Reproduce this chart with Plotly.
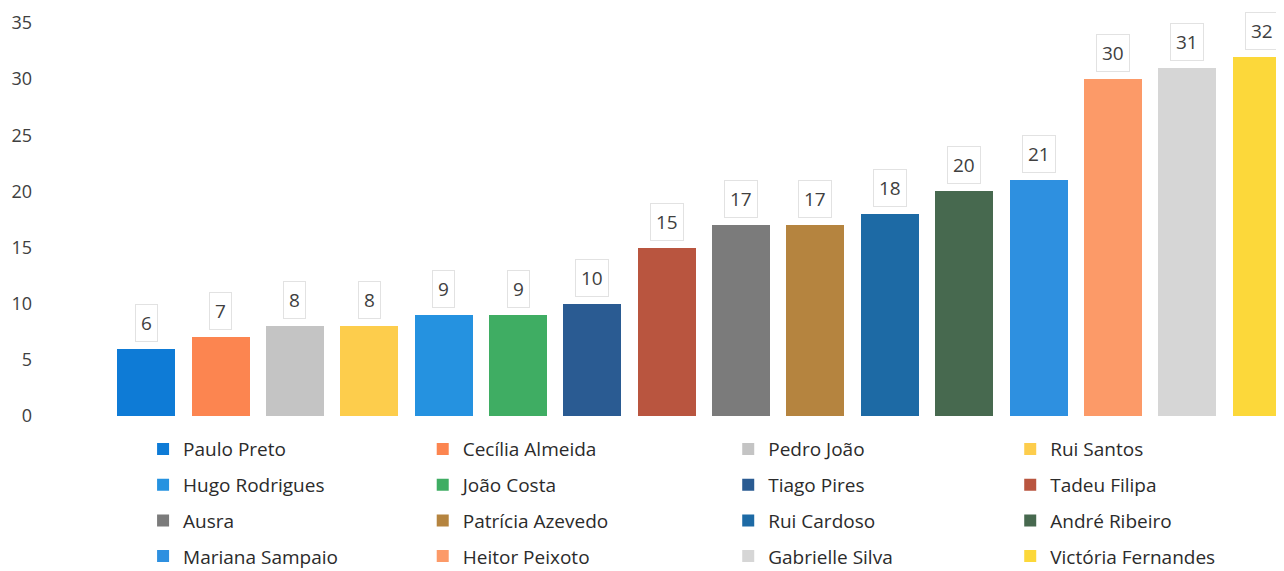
import plotly.graph_objects as go

names = ["Paulo Preto", "Cecília Almeida", "Pedro João", "Rui Santos",
         "Hugo Rodrigues", "João Costa", "Tiago Pires", "Tadeu Filipa",
         "Ausra", "Patrícia Azevedo", "Rui Cardoso", "André Ribeiro",
         "Mariana Sampaio", "Heitor Peixoto", "Gabrielle Silva", "Victória Fernandes"]
values = [6, 7, 8, 8, 9, 9, 10, 15, 17, 17, 18, 20, 21, 30, 31, 32]
colors = ["#0e7bd6", "#fc8550", "#c4c4c4", "#fdcd4c",
          "#2592e0", "#3fad63", "#2a5b92", "#b9553f",
          "#7b7b7b", "#b5843f", "#1d6aa5", "#47694f",
          "#2e90e0", "#fc9a68", "#d6d6d6", "#fcd83a"]
y_ticks = [0, 5, 10, 15, 20, 25, 30, 35]

FONT = "'Open Sans', Lato, sans-serif"
legend_ids = ["legend", "legend2", "legend3", "legend4"]

fig = go.Figure()
for i, (n, v, c) in enumerate(zip(names, values, colors)):
    fig.add_trace(go.Bar(x=[n], y=[v], name=n, legendgroup=n,
                         legend=legend_ids[i % 4],
                         marker=dict(color=c, line=dict(width=0))))

for n, v in zip(names, values):
    fig.add_annotation(x=n, y=v, text=str(v), showarrow=False, yanchor="bottom",
                       yshift=7, font=dict(family=FONT, size=19, color="#404040"),
                       bordercolor="#e2e2e2", borderwidth=1, borderpad=5, bgcolor="white")

leg_common = dict(orientation="v", yanchor="top", xanchor="left", y=-0.036,
                  itemwidth=30, tracegroupgap=8, bgcolor="rgba(0,0,0,0)",
                  maxheight=400, borderwidth=0,
                  font=dict(family=FONT, size=19, color="#2b2b2b"))
leg_x = [0.029, 0.267, 0.527, 0.767]

fig.update_layout(
    width=1276, height=563,
    barmode="stack", bargap=0.22,
    plot_bgcolor="white", paper_bgcolor="white",
    margin=dict(l=101, r=0, t=15, b=155, autoexpand=False),
    font=dict(family=FONT, color="#404040"),
    showlegend=True,
    legend=dict(x=leg_x[0], **leg_common),
    legend2=dict(x=leg_x[1], **leg_common),
    legend3=dict(x=leg_x[2], **leg_common),
    legend4=dict(x=leg_x[3], **leg_common),
    xaxis=dict(range=[-0.5, 15.3], showticklabels=False, showgrid=False,
               zeroline=False, showline=False),
    yaxis=dict(range=[0, 35], tickvals=y_ticks, showgrid=False, zeroline=False,
               showline=False, ticklabelstandoff=76, automargin=False,
               tickfont=dict(family=FONT, size=18, color="#404040")),
)

fig.write_html("out.html")
